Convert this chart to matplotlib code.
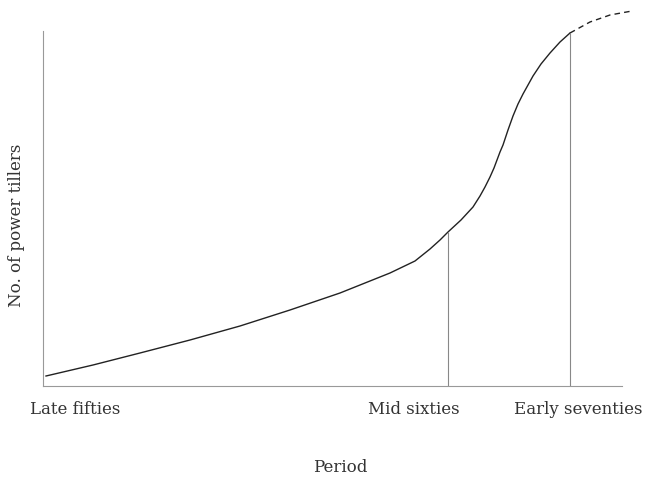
import numpy as np
import matplotlib.pyplot as plt

# curve (x: time axis, y: number of tillers, arbitrary units)
solid_x = [3, 50, 97, 147, 197, 247, 297, 347, 372, 387, 397, 405, 418, 430, 437, 442, 447, 451, 454, 457, 460, 465, 470, 475, 480, 485, 490, 498, 507, 517, 527]
solid_y = [10, 21, 33, 46, 60, 76, 93, 113, 125, 137, 146, 154, 166, 179, 190, 199, 209, 218, 226, 234, 241, 256, 270, 282, 292, 301, 310, 322, 333, 344, 353]
dash_x = [527, 547, 567, 589]
dash_y = [353, 364, 371, 375]

period_pos = [3, 405, 527]
period_val = [10, 154, 353]
period_labels = ["Late fifties", "Mid sixties", "Early seventies"]
label_pos = [32, 371, 535]

fig = plt.figure(figsize=(6.45, 4.78), dpi=100)
ax = fig.add_axes([43/645, (478-386)/478, 602/645, 386/478])

ax.plot(solid_x, solid_y, color="#222222", lw=1.0, clip_on=False)
ax.plot(dash_x, dash_y, color="#222222", lw=1.0, ls=(0, (4, 3)), clip_on=False)
ax.vlines(period_pos[1:], 0, period_val[1:], color="#888888", lw=0.8)

ax.set_yticks([])
ax.set_xticks(label_pos)
ax.set_xticklabels(period_labels, family="DejaVu Serif", fontsize=12, ha="center")
ax.tick_params(axis="x", length=0, pad=11)

ax.set_xlim(0, 602)
ax.set_ylim(0, 386)
for s in ["top", "right"]:
    ax.spines[s].set_visible(False)
ax.spines["left"].set_bounds(0, 355)
ax.spines["bottom"].set_bounds(0, 579)
for s in ["left", "bottom"]:
    ax.spines[s].set_color("#999999")
    ax.spines[s].set_linewidth(0.8)

ax.set_xlabel("Period", family="DejaVu Serif", fontsize=12)
ax.xaxis.label.set_va("center")
ax.xaxis.set_label_coords(297/602, -81/386)
ax.set_ylabel("No. of power tillers", family="DejaVu Serif", fontsize=12)
ax.yaxis.label.set_va("center")
ax.yaxis.set_label_coords(-26/602, 161/386)

for t in ax.get_xticklabels() + [ax.xaxis.label, ax.yaxis.label]:
    t.set_color("#333333")

fig.savefig("out.png", dpi=100)
